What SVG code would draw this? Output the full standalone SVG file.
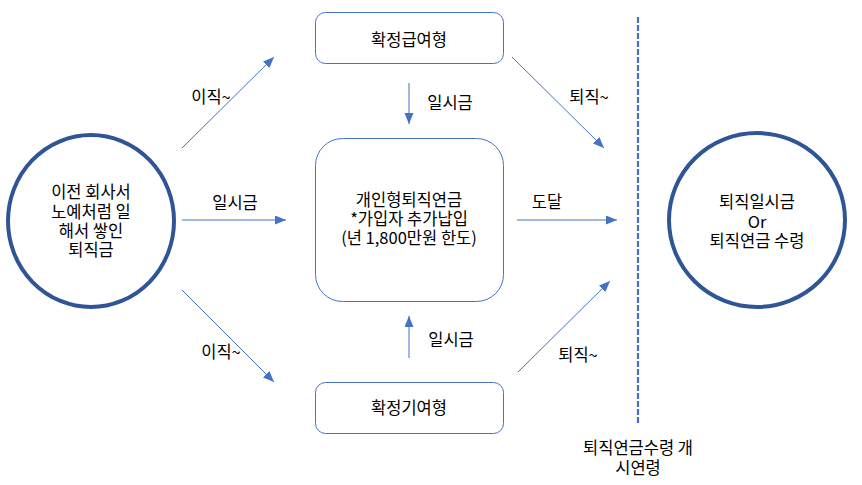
<svg xmlns="http://www.w3.org/2000/svg" width="862" height="485" viewBox="0 0 862 485">
<style>
text{font-family:"Malgun Gothic","Noto Sans CJK KR","Liberation Sans",sans-serif;font-size:16.5px;fill:#000;text-anchor:middle}
.circ{fill:#fff;stroke:#2F5597;stroke-width:4}
.box{fill:#fff;stroke:#4472C4;stroke-width:1}
.ar{stroke:#4472C4;stroke-width:1;fill:none;marker-end:url(#ah)}
.dash{stroke:#4472C4;stroke-width:2.2;stroke-dasharray:6 2;fill:none}
</style>
<defs>
<marker id="ah" markerUnits="userSpaceOnUse" markerWidth="12" markerHeight="10" refX="11" refY="4.5" orient="auto">
<path d="M0,0 L11,4.5 L0,9 Z" fill="#4472C4"/>
</marker>
</defs>
<rect width="862" height="485" fill="#fff"/>
<g id="connectors">
<line class="ar" x1="182" y1="148" x2="274" y2="57"/>
<line class="ar" x1="182" y1="220" x2="286" y2="220"/>
<line class="ar" x1="182" y1="290" x2="274" y2="382"/>
<line class="ar" x1="409" y1="83" x2="409" y2="124"/>
<line class="ar" x1="409" y1="358" x2="409" y2="316"/>
<line class="ar" x1="512" y1="57" x2="604" y2="148"/>
<line class="ar" x1="517" y1="220" x2="617" y2="220"/>
<line class="ar" x1="518" y1="372" x2="610" y2="281"/>
<line class="dash" x1="638" y1="17" x2="638" y2="425"/>
<text x="211" y="103">이직~</text>
<text x="235" y="209">일시금</text>
<text x="221" y="358">이직~</text>
<text x="450" y="109">일시금</text>
<text x="451" y="346">일시금</text>
<text x="589" y="103">퇴직~</text>
<text x="547" y="208">도달</text>
<text x="578" y="361">퇴직~</text>
<text x="638" y="454">퇴직연금수령 개</text>
<text x="638" y="474">시연령</text>
</g>
<g id="node-prev">
<ellipse class="circ" cx="91" cy="221" rx="83" ry="86"/>
<text x="91" y="198">이전 회사서</text>
<text x="91" y="218">노예처럼 일</text>
<text x="91" y="237">해서 쌓인</text>
<text x="91" y="256">퇴직금</text>
</g>
<g id="node-db">
<rect class="box" x="315.5" y="12.5" width="188" height="51" rx="10"/>
<text x="409" y="46">확정급여형</text>
</g>
<g id="node-irp">
<rect class="box" x="315.5" y="138.5" width="188" height="163" rx="27"/>
<text x="409" y="206">개인형퇴직연금</text>
<text x="409" y="225">*가입자 추가납입</text>
<text x="409" y="244">(년 1,800만원 한도)</text>
</g>
<g id="node-dc">
<rect class="box" x="315.5" y="382.5" width="188" height="51" rx="10"/>
<text x="409" y="414">확정기여형</text>
</g>
<g id="node-result">
<ellipse class="circ" cx="757" cy="220" rx="88" ry="87"/>
<text x="757" y="208">퇴직일시금</text>
<text x="757" y="228">Or</text>
<text x="757" y="247">퇴직연금 수령</text>
</g>
</svg>
